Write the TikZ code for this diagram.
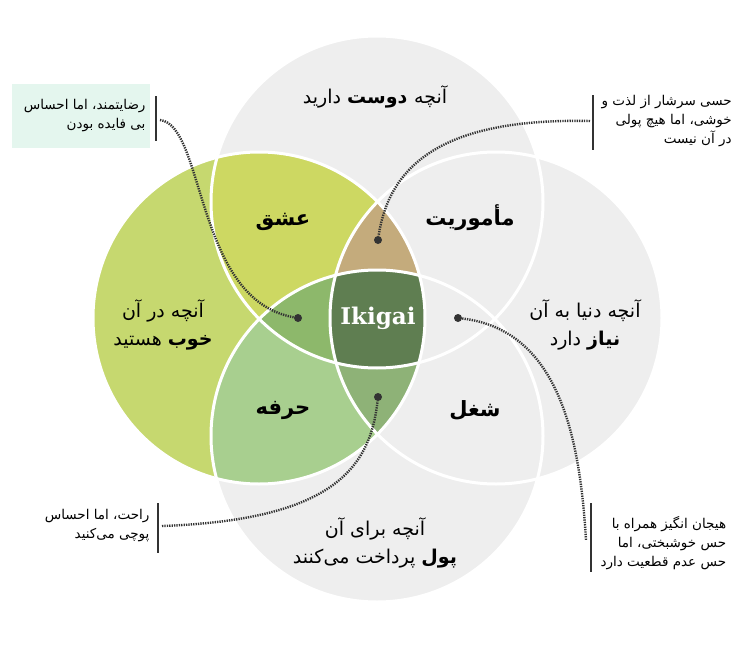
\documentclass[tikz,border=0pt]{standalone}
\usepackage{fontspec}
\newfontfamily\fa[Script=Arabic]{DejaVu Sans}
\newfontfamily\slab{DejaVu Serif}
\TeXXeTstate=1
\definecolor{ringgray}{HTML}{EEEEEE}
\definecolor{goodgreen}{HTML}{C6D86F}
\definecolor{lovegreen}{HTML}{CDD862}
\definecolor{profgreen}{HTML}{A8CF8F}
\definecolor{tan}{HTML}{C4AB7C}
\definecolor{midgreen}{HTML}{8DB86B}
\definecolor{lowgreen}{HTML}{8EB277}
\definecolor{ikigreen}{HTML}{5F7E51}
\definecolor{mint}{HTML}{E4F6EE}
\definecolor{ink}{HTML}{333333}
\begin{document}
\begin{tikzpicture}
 [ x=1pt, y=-1pt
 , ring/.style={draw=white, line width=3pt}
 , region/.style={font=\fa\bfseries\fontsize{21}{24}\selectfont, text=black}
 , caption/.style={font=\fa\fontsize{19}{28}\selectfont, align=center, text=black}
 , note/.style={font=\fa\fontsize{13.5}{19}\selectfont, align=right, text=black}
 , bar/.style={ink, line width=2.2pt}
 , lead/.style={ink, line width=2.4pt, dash pattern=on 1.3pt off 1.1pt}
 , spot/.style={circle, fill=ink, inner sep=0pt, minimum size=8pt}
 ]
  \useasboundingbox (0,0) rectangle (756,645);
  \fill[white] (0,0) rectangle (756,645);
  % circles
  \def\R{166}
  \coordinate (top) at (377,202);
  \coordinate (bot) at (377,436);
  \coordinate (lft) at (259,318);
  \coordinate (rgt) at (496,318);
  \foreach \c in {top,bot,lft,rgt} \fill[ringgray] (\c) circle (\R);
  \fill[goodgreen] (lft) circle (\R);
  \begin{scope}
    \clip (lft) circle (\R);
    \fill[lovegreen] (top) circle (\R);
    \fill[profgreen] (bot) circle (\R);
    \begin{scope}
      \clip (top) circle (\R);
      \fill[tan] (rgt) circle (\R);
      \fill[midgreen] (bot) circle (\R);
      \clip (bot) circle (\R);
      \fill[ikigreen] (rgt) circle (\R);
    \end{scope}
    \begin{scope}
      \clip (bot) circle (\R);
      \clip (rgt) circle (\R);
      \fill[lowgreen] (lft) circle (\R);
      \clip (top) circle (\R);
      \fill[ikigreen] (lft) circle (\R);
    \end{scope}
  \end{scope}
  \foreach \c in {top,bot,lft,rgt} \draw[ring] (\c) circle (\R);
  % captions
  \node[caption] (love) at (375,97) {\beginR آنچه \textbf{دوست} دارید\endR};
  \node[caption] (good) at (163,325) {\beginR آنچه در آن\endR\\\beginR\textbf{خوب} هستید\endR};
  \node[caption] (need) at (585,325) {\beginR آنچه دنیا به آن\endR\\\beginR\textbf{نیاز} دارد\endR};
  \node[caption] (paid) at (375,543) {\beginR آنچه برای آن\endR\\\beginR\textbf{پول} پرداخت می‌کنند\endR};
  % regions
  \node[region] (passion) at (283,222) {\beginR عشق\endR};
  \node[region] (mission) at (470,218) {\beginR مأموریت\endR};
  \node[region] (profession) at (283,410) {\beginR حرفه\endR};
  \node[region] (vocation) at (475,410) {\beginR شغل\endR};
  \node[text=white, font=\slab\bfseries\fontsize{23}{26}\selectfont] (ikigai) at (378,318) {Ikigai};
  % notes
  \fill[mint] (12,84) rectangle (150,148);
  \node[note, anchor=east] (n1) at (149,116) {\beginR رضایتمند، اما احساس\endR\\\beginR بی فایده بودن\endR};
  \node[note, anchor=west] (n2) at (598,121) {\beginR حسی سرشار از لذت و\endR\\\beginR خوشی، اما هیچ پولی\endR\\\beginR در آن نیست\endR};
  \node[note, anchor=east] (n3) at (153,526) {\beginR راحت، اما احساس\endR\\\beginR پوچی می‌کنید\endR};
  \node[note, anchor=west] (n4) at (597,543) {\beginR هیجان انگیز همراه با\endR\\\beginR حس خوشبختی، اما\endR\\\beginR حس عدم قطعیت دارد\endR};
  \coordinate (b1t) at (156,96);  \coordinate (b1b) at (156,141);
  \coordinate (b2t) at (593,95);  \coordinate (b2b) at (593,150);
  \coordinate (b3t) at (158,503); \coordinate (b3b) at (158,553);
  \coordinate (b4t) at (591,503); \coordinate (b4b) at (591,572);
  \draw[bar] (b1t) -- (b1b);
  \draw[bar] (b2t) -- (b2b);
  \draw[bar] (b3t) -- (b3b);
  \draw[bar] (b4t) -- (b4b);
  % leaders
  \node[spot] (d1) at (298,318) {};
  \node[spot] (d2) at (378,240) {};
  \node[spot] (d3) at (378,397) {};
  \node[spot] (d4) at (458,318) {};
  \draw[lead] (160,120) .. controls (205,125) and (195,300) .. (d1);
  \draw[lead] (590,121) .. controls (450,118) and (390,160) .. (d2);
  \draw[lead] (162,526) .. controls (330,520) and (370,470) .. (d3);
  \draw[lead] (d4) .. controls (560,330) and (580,440) .. (586,540);
\end{tikzpicture}
\end{document}
